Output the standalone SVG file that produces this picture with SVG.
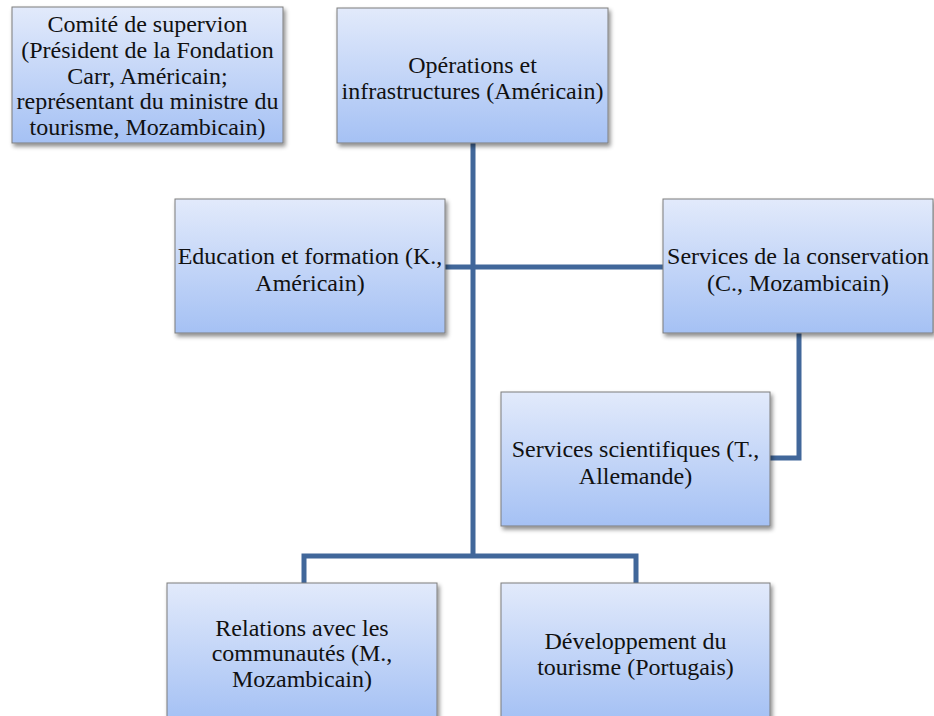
<svg xmlns="http://www.w3.org/2000/svg" width="934" height="716" viewBox="0 0 934 716">
<defs>
<linearGradient id="g" x1="0" y1="0" x2="0" y2="1">
<stop offset="0" stop-color="#e2eafb"/>
<stop offset="1" stop-color="#a5c1f4"/>
</linearGradient>
<filter id="sh" x="-10%" y="-10%" width="125%" height="130%">
<feDropShadow dx="2" dy="3" stdDeviation="2" flood-color="#000" flood-opacity="0.45"/>
</filter>
</defs>
<style>
.box{fill:url(#g);stroke:#7d7d7d;stroke-width:1;filter:url(#sh)}
.t{font-family:'Liberation Serif','Times New Roman','DejaVu Serif',serif;font-size:24px;fill:#111;text-anchor:middle}
.c{fill:none;stroke:#41679a;stroke-width:5;stroke-linejoin:miter}
</style>
<rect width="934" height="716" fill="#fff"/>
<g id="connectors">
<path class="c" d="M473 143 V556"/>
<path class="c" d="M445 267 H663"/>
<path class="c" d="M799 333 V458 H770"/>
<path class="c" d="M304 583 V556 H636 V583"/>
</g>
<g id="n-comite" class="t" font-family="Liberation Serif, serif">
<rect class="box" x="12" y="7" width="271" height="136"/>
<text x="147.5" y="32">Comité de supervion</text>
<text x="147.5" y="58">(Président de la Fondation</text>
<text x="147.5" y="84">Carr, Américain;</text>
<text x="147.5" y="109">représentant du ministre du</text>
<text x="147.5" y="135">tourisme, Mozambicain)</text>
</g>
<g id="n-operations" class="t" font-family="Liberation Serif, serif">
<rect class="box" x="337" y="8" width="271" height="135"/>
<text x="472.5" y="73">Opérations et</text>
<text x="472.5" y="99">infrastructures (Américain)</text>
</g>
<g id="n-education" class="t" font-family="Liberation Serif, serif">
<rect class="box" x="175" y="199" width="270" height="134"/>
<text x="310" y="264">Education et formation (K.,</text>
<text x="310" y="291">Américain)</text>
</g>
<g id="n-conservation" class="t" font-family="Liberation Serif, serif">
<rect class="box" x="663" y="199" width="270" height="134"/>
<text x="798" y="264">Services de la conservation</text>
<text x="798" y="291">(C., Mozambicain)</text>
</g>
<g id="n-scientifiques" class="t" font-family="Liberation Serif, serif">
<rect class="box" x="501" y="392" width="269" height="134"/>
<text x="635.5" y="457">Services scientifiques (T.,</text>
<text x="635.5" y="484">Allemande)</text>
</g>
<g id="n-relations" class="t" font-family="Liberation Serif, serif">
<rect class="box" x="167" y="583" width="270" height="136"/>
<text x="302" y="636">Relations avec les</text>
<text x="302" y="661">communautés (M.,</text>
<text x="302" y="687">Mozambicain)</text>
</g>
<g id="n-tourisme" class="t" font-family="Liberation Serif, serif">
<rect class="box" x="501" y="583" width="269" height="136"/>
<text x="635.5" y="649">Développement du</text>
<text x="635.5" y="675">tourisme (Portugais)</text>
</g>
</svg>
